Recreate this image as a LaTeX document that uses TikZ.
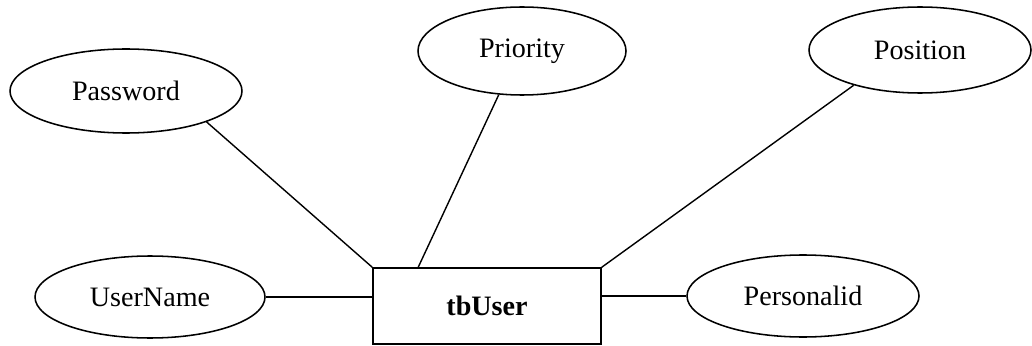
\documentclass[tikz,border=0pt]{standalone}
\usepackage{fontspec}
\setmainfont{Liberation Serif}
\usepackage{tikz}
\usetikzlibrary{shapes}

\begin{document}
\begin{tikzpicture}[
            attr/.style={draw,ellipse,inner sep=0pt,line width=1.1pt},
            entity/.style={draw,rectangle,line width=1.1pt,minimum width=5.7cm,minimum height=1.9cm,font=\bfseries},
            every node/.style={font=\fontsize{20}{24}\selectfont},
            every path/.style={line width=1pt}
          ]
          \useasboundingbox (0,0) rectangle (25.8,8.625);
          %entity
          \node[entity] (user) at (12.175,0.975) {\fontsize{20}{24}\selectfont\bfseries tbUser};

          %attributes
          \node[attr,minimum width=5.8cm,minimum height=2.1cm] (pw) at (3.15,6.35) {Password};
          \node[attr,minimum width=5.2cm,minimum height=2.2cm] (pri) at (13.05,7.35) {Priority};
          \node[attr,minimum width=5.55cm,minimum height=2.15cm] (pos) at (23.0,7.375) {Position};
          \node[attr,minimum width=5.75cm,minimum height=2.05cm] (un) at (3.75,1.2) {UserName};
          \node[attr,minimum width=5.8cm,minimum height=2.05cm] (pid) at (20.075,1.225) {Personalid};

          %links
          \coordinate (pritop) at ([xshift=1.15cm]user.north west);
          \draw (pw.-21) -- (user.north west);
          \draw (pri.242) -- (pritop);
          \draw (pos.208) -- (user.north east);
          \draw (un.east) -- (un.east -| user.west);
          \draw (pid.west) -- (pid.west -| user.east);

      \end{tikzpicture}
\end{document}
